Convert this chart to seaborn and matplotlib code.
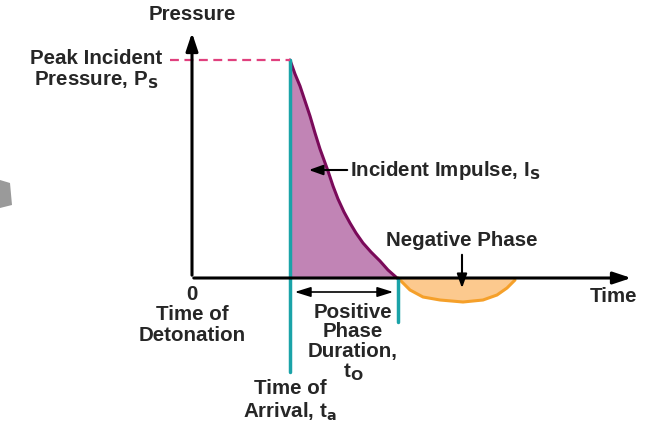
import matplotlib
matplotlib.use("Agg")
import matplotlib.pyplot as plt
import seaborn as sns
import pandas as pd

# positive phase (time, pressure), arbitrary units
pos_t = [0.98, 1.03, 1.08, 1.13, 1.18, 1.23, 1.28, 1.32, 1.36, 1.41, 1.46, 1.52,
         1.58, 1.64, 1.71, 1.79, 1.88, 1.96, 2.05]
pos_p = [2.18, 2.04, 1.92, 1.77, 1.62, 1.45, 1.29, 1.18, 1.07, 0.92, 0.79, 0.66,
         0.55, 0.45, 0.35, 0.26, 0.17, 0.08, 0.0]

# negative phase
neg_t = [2.06, 2.12, 2.18, 2.31, 2.48, 2.71, 2.91, 3.05, 3.15, 3.19, 3.23]
neg_p = [0.0, -0.06, -0.12, -0.19, -0.22, -0.24, -0.22, -0.17, -0.10, -0.06, -0.02]

t_arrival = 0.98
t_end = 2.07
p_peak = 2.18

pos = pd.DataFrame({"t": pos_t, "p": pos_p})
neg = pd.DataFrame({"t": neg_t, "p": neg_p})

sns.set_theme(style="white")
plt.rcParams["font.family"] = ["Liberation Sans", "DejaVu Sans"]
plt.rcParams["font.weight"] = "bold"

fig = plt.figure(figsize=(6.69, 4.25), dpi=100)
ax = fig.add_axes([0, 0, 1, 1])
ax.set_xlim(-1.92, 4.77)
ax.set_ylim(-1.47, 2.78)
ax.axis("off")

purple = "#7a0a5a"
cyan = "#1aa3a8"
orange = "#f5a02a"

# fills
ax.fill_between(pos["t"], 0, pos["p"], color="#c184b5", lw=0)
ax.fill_between(neg["t"], 0, neg["p"], color="#fcc98e", lw=0)

# curves
sns.lineplot(data=pos, x="t", y="p", ax=ax, color=purple, lw=2.2, sort=False)
sns.lineplot(data=neg, x="t", y="p", ax=ax, color=orange, lw=2.2, sort=False)

# axes with arrows
ax.annotate("", xy=(0, 2.48), xytext=(0, 0),
            arrowprops=dict(arrowstyle="-|>,head_length=0.9,head_width=0.3", color="black", lw=2.2))
ax.annotate("", xy=(4.42, 0), xytext=(-0.01, 0),
            arrowprops=dict(arrowstyle="-|>,head_length=0.9,head_width=0.3", color="black", lw=2.2))

# cyan markers
ax.plot([t_arrival, t_arrival], [p_peak, -0.94], color=cyan, lw=2.5)
ax.plot([t_end - 0.01, t_end - 0.01], [0, -0.44], color=cyan, lw=2.5)

# dashed peak line
ax.plot([-0.22, t_arrival], [p_peak, p_peak], color="#e0407e", lw=1.6, ls=(0, (4, 2.5)))

fs = 14.8
ax.text(0, 2.63, "Pressure", ha="center", va="center", fontsize=fs, fontweight="bold")
ax.text(-0.96, 2.08, "Peak Incident\nPressure, P$_\\mathbf{S}$", ha="center", va="center",
        fontsize=fs, fontweight="bold", linespacing=1.1)
ax.text(1.58, 1.08, "Incident Impulse, I$_\\mathbf{S}$", ha="left", va="center",
        fontsize=fs, fontweight="bold")
ax.annotate("", xy=(1.14, 1.08), xytext=(1.58, 1.08),
            arrowprops=dict(arrowstyle="-|>,head_length=0.7,head_width=0.25", color="black", lw=1.5))
ax.text(2.70, 0.38, "Negative Phase", ha="center", va="center", fontsize=fs, fontweight="bold")
ax.annotate("", xy=(2.70, -0.13), xytext=(2.70, 0.26),
            arrowprops=dict(arrowstyle="-|>,head_length=0.7,head_width=0.25", color="black", lw=1.5))
ax.text(0, -0.17, "0", ha="center", va="center", fontsize=fs, fontweight="bold")
ax.text(0, -0.47, "Time of\nDetonation", ha="center", va="center", fontsize=fs,
        fontweight="bold", linespacing=1.1)
ax.text(4.22, -0.19, "Time", ha="center", va="center", fontsize=fs, fontweight="bold")
ax.annotate("", xy=(t_arrival + 0.02, -0.14), xytext=(t_end - 0.03, -0.14),
            arrowprops=dict(arrowstyle="<|-|>,head_length=0.8,head_width=0.25", color="black", lw=1.2))
ax.text(1.61, -0.65, "Positive\nPhase\nDuration,\nt$_\\mathbf{O}$", ha="center", va="center",
        fontsize=fs, fontweight="bold", linespacing=1.05)
ax.text(t_arrival, -1.23, "Time of\nArrival, t$_\\mathbf{a}$", ha="center", va="center",
        fontsize=fs, fontweight="bold", linespacing=1.1)

# grey box artefact at the left edge
ax.fill([-1.92, -1.82, -1.80, -1.92], [0.98, 0.95, 0.73, 0.70], color="#9a9a9a", lw=0)

fig.savefig("out.png", dpi=100)
